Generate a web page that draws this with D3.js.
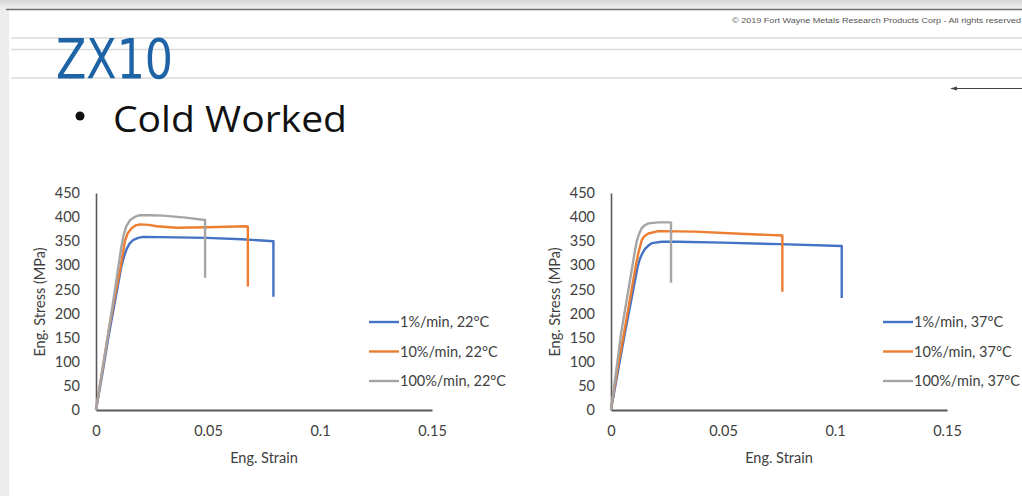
<!DOCTYPE html>
<html>
<head>
<meta charset="utf-8">
<script src="https://cdn.jsdelivr.net/npm/d3@7"></script>
<style>
  html, body { margin: 0; padding: 0; background: #fff; }
  svg { display: block; }
</style>
</head>
<body>
<svg id="slide" width="1022" height="496"></svg>
<script>
// ---- data (strain, stress in MPa) ----
const xTicks = [0, 0.05, 0.1, 0.15];
const yTicks = [0, 50, 100, 150, 200, 250, 300, 350, 400, 450];

const labels22 = ["1%/min, 22°C", "10%/min, 22°C", "100%/min, 22°C"];
const labels37 = ["1%/min, 37°C", "10%/min, 37°C", "100%/min, 37°C"];

const blue22 = [[0,0],[0.003,80],[0.0055,150],[0.0113,297],[0.0125,318],[0.0137,334],[0.015,345],[0.0167,353],[0.0188,357],[0.0211,359],[0.036,358],[0.0494,357],[0.065,354],[0.0792,350],[0.0792,235]];
const orange22 = [[0,0],[0.003,87],[0.0055,159],[0.008,225],[0.011,297],[0.012,325],[0.0129,350],[0.0142,367],[0.0159,377],[0.0178,383],[0.0196,385],[0.0235,384],[0.0271,381],[0.036,378],[0.0494,379],[0.0673,381],[0.0678,380],[0.0678,256]];
const gray22 = [[0,0],[0.003,88],[0.0055,160],[0.008,235],[0.01,297],[0.0112,335],[0.0122,360],[0.0135,381],[0.0152,394],[0.0175,401],[0.0196,404],[0.0241,404],[0.03,403],[0.04,399],[0.0487,394],[0.0487,274]];

const blue37 = [[0,0],[0.003,78],[0.0062,159],[0.0119,297],[0.0128,312],[0.014,325],[0.0152,334],[0.0167,341],[0.0182,346],[0.0226,349],[0.03,349],[0.05,347],[0.075,344],[0.103,340],[0.103,232]];
const orange37 = [[0,0],[0.0004,14],[0.003,88],[0.0058,159],[0.011,297],[0.0122,325],[0.0137,352],[0.015,361],[0.0167,366],[0.0211,371],[0.0375,370],[0.06,365],[0.0765,362],[0.0765,245]];
const gray37 = [[0,0],[0.003,105],[0.0045,159],[0.0095,297],[0.0105,325],[0.0115,350],[0.0126,366],[0.0137,377],[0.015,383],[0.0167,387],[0.0211,389],[0.0266,389],[0.0268,388],[0.0268,264]];

const colors = ["#4472C4", "#ED7D31", "#A5A5A5"];

const svg = d3.select("#slide");
const W = 1022;

// ---- slide chrome ----
const grad = svg.append("defs").append("linearGradient")
    .attr("id", "topfade").attr("x1", 0).attr("y1", 0).attr("x2", 0).attr("y2", 1);
grad.append("stop").attr("offset", "0%").attr("stop-color", "#d6d6d6");
grad.append("stop").attr("offset", "100%").attr("stop-color", "#f1f1f1");
svg.append("rect").attr("x", 0).attr("y", 0).attr("width", W).attr("height", 9).attr("fill", "url(#topfade)");
svg.append("rect").attr("x", 0).attr("y", 9).attr("width", 9).attr("height", 487).attr("fill", "#ededed");
svg.append("line").attr("x1", 6).attr("x2", W).attr("y1", 9.5).attr("y2", 9.5)
    .attr("stroke", "#6e6e6e").attr("stroke-width", 1.5);

[38, 49.5, 78].forEach(y => {
  svg.append("line").attr("x1", 11).attr("x2", W).attr("y1", y).attr("y2", y)
      .attr("stroke", "#dadada").attr("stroke-width", 1.5);
});

svg.append("text")
    .attr("x", 1021).attr("y", 22.5)
    .attr("text-anchor", "end")
    .attr("textLength", 289).attr("lengthAdjust", "spacingAndGlyphs")
    .style("font-family", "'Liberation Sans Narrow', 'Liberation Sans', sans-serif")
    .style("font-size", "7.5px").style("fill", "#555")
    .text("© 2019 Fort Wayne Metals Research Products Corp - All rights reserved");

svg.append("text")
    .attr("x", 56).attr("y", 78)
    .attr("textLength", 117).attr("lengthAdjust", "spacingAndGlyphs")
    .style("font-family", "'DejaVu Sans Condensed', 'DejaVu Sans', sans-serif")
    .style("font-size", "56px").style("fill", "#1d63a6")
    .text("ZX10");

// small arrow on the right
svg.append("line").attr("x1", 956).attr("x2", W).attr("y1", 88.5).attr("y2", 88.5)
    .attr("stroke", "#444").attr("stroke-width", 1);
svg.append("path").attr("d", "M950,88.5 L957,86.5 L957,90.5 Z").attr("fill", "#444");

svg.append("circle").attr("cx", 80).attr("cy", 116).attr("r", 4.5).attr("fill", "#111");
svg.append("text")
    .attr("x", 113).attr("y", 131.5)
    .attr("textLength", 234).attr("lengthAdjust", "spacingAndGlyphs")
    .style("font-family", "'Open Sans', sans-serif")
    .style("font-size", "37px").style("fill", "#111")
    .text("Cold Worked");

// ---- charts ----
function drawChart(x0, series, labels, legendX) {
  const x = d3.scaleLinear().domain([0, 0.15]).range([x0, x0 + 336]);
  const y = d3.scaleLinear().domain([0, 450]).range([410, 193]);
  const g = svg.append("g");
  const font = "Lato, 'Open Sans', sans-serif";

  // y axis
  const ya = g.append("g").attr("transform", `translate(${x0},0)`)
      .call(d3.axisLeft(y).tickValues(yTicks).tickSize(0).tickPadding(16));
  ya.select(".domain").attr("stroke", "#595959").attr("stroke-width", 1.6);
  ya.selectAll("text").style("font-family", font).style("font-size", "14.5px").style("fill", "#404040");

  // x axis
  const xa = g.append("g").attr("transform", "translate(0,410)")
      .call(d3.axisBottom(x).tickValues(xTicks).tickFormat(d3.format("")).tickSize(0).tickPadding(16));
  xa.select(".domain").attr("stroke", "#595959").attr("stroke-width", 2);
  xa.selectAll("text").style("font-family", font).style("font-size", "14.5px").style("fill", "#404040");

  g.append("text")
      .attr("x", x0 + 168).attr("y", 463)
      .attr("text-anchor", "middle")
      .style("font-family", font).style("font-size", "14.5px").style("fill", "#404040")
      .text("Eng. Strain");

  g.append("text")
      .attr("transform", `translate(${x0 - 51},302) rotate(-90)`)
      .attr("text-anchor", "middle")
      .style("font-family", font).style("font-size", "14.5px").style("fill", "#404040")
      .text("Eng. Stress (MPa)");

  const line = d3.line().x(d => x(d[0])).y(d => y(d[1])).curve(d3.curveLinear);
  series.forEach((s, i) => {
    g.append("path")
        .datum(s)
        .attr("d", line)
        .attr("fill", "none")
        .attr("stroke", colors[i])
        .attr("stroke-width", 2.4)
        .attr("stroke-linejoin", "round");
  });

  // legend
  labels.forEach((lab, i) => {
    const ly = 322 + i * 29.5;
    g.append("line").attr("x1", legendX).attr("x2", legendX + 30).attr("y1", ly).attr("y2", ly)
        .attr("stroke", colors[i]).attr("stroke-width", 2.4);
    g.append("text").attr("x", legendX + 31).attr("y", ly + 5)
        .style("font-family", font).style("font-size", "14.5px").style("fill", "#404040")
        .text(lab);
  });
}

drawChart(96, [blue22, orange22, gray22], labels22, 369);
drawChart(611, [blue37, orange37, gray37], labels37, 883);
</script>
</body>
</html>
